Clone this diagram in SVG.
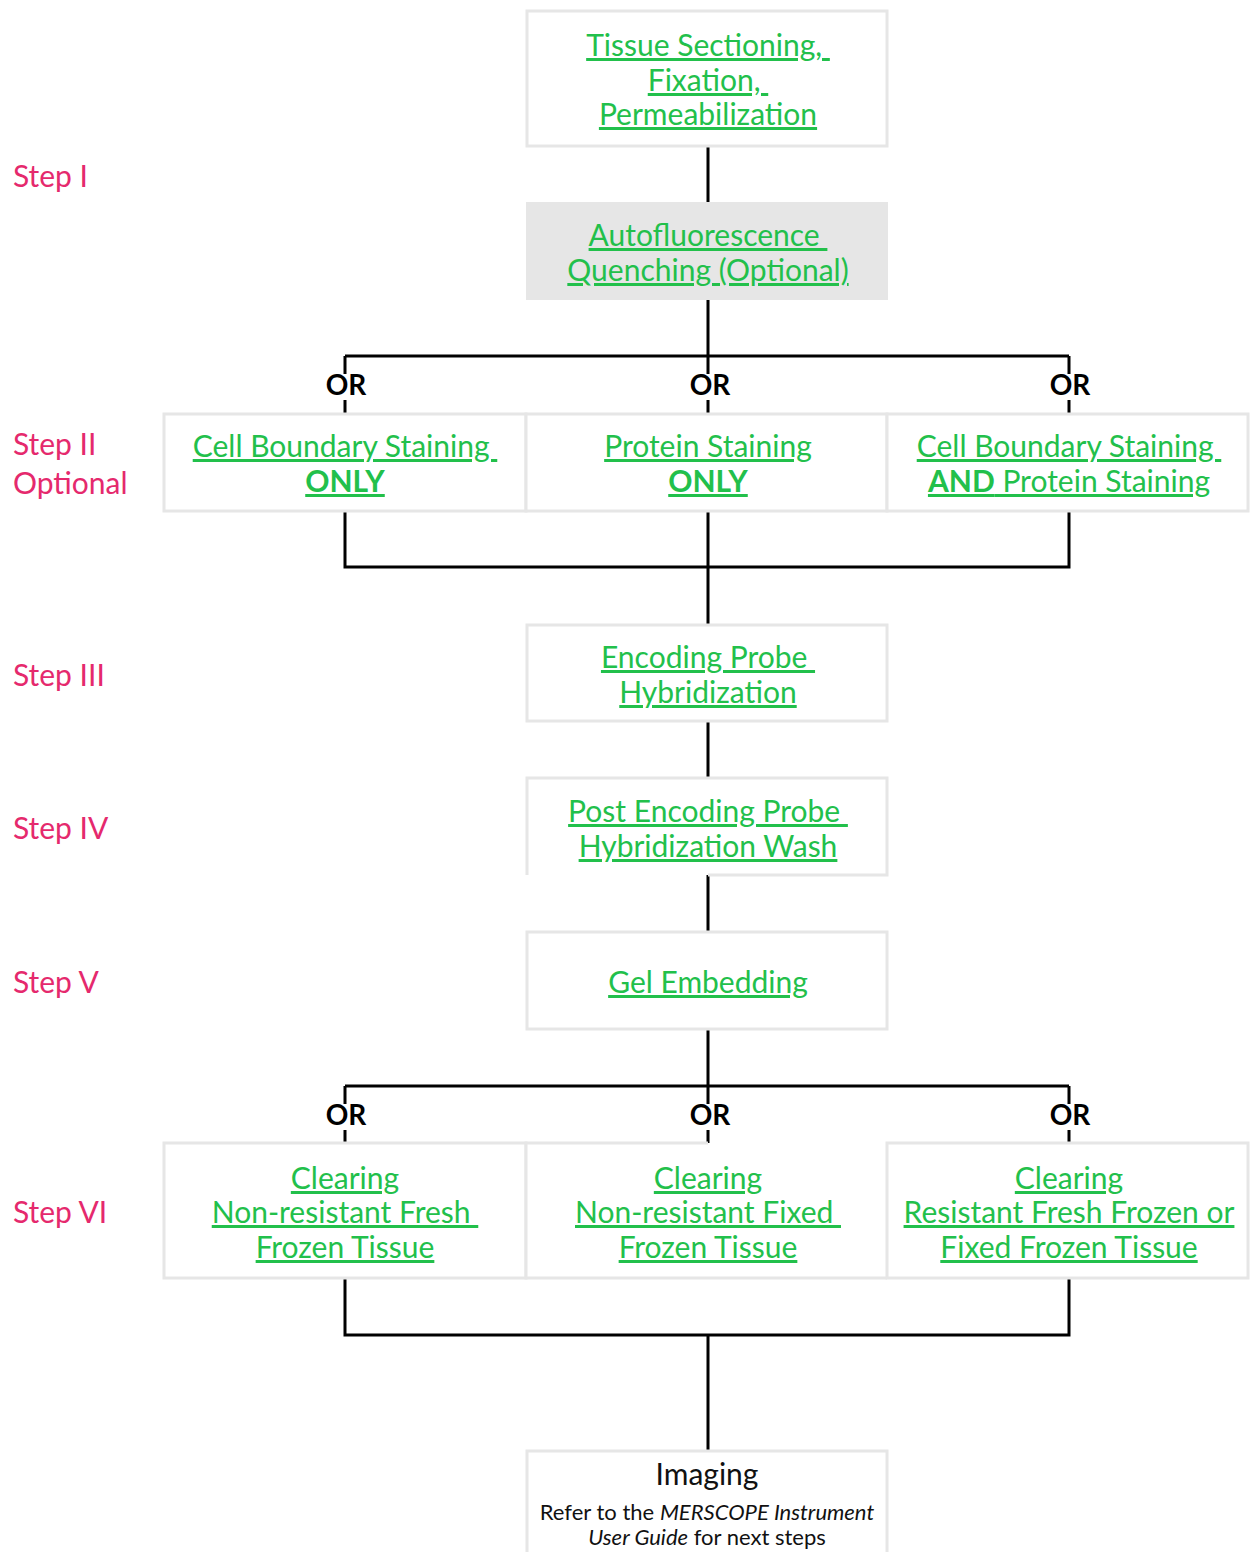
<svg xmlns="http://www.w3.org/2000/svg" width="1250" height="1552" viewBox="0 0 1250 1552">
<style>
.bx{fill:#fff;stroke:#e6e6e6;stroke-width:3}
.bxf{fill:#fff;stroke:none}
.bd{fill:none;stroke:#e6e6e6;stroke-width:3}
.cn{fill:none;stroke:#000;stroke-width:3}
.lk{fill:#22c04b;font-family:Lato,"Noto Sans",sans-serif;font-size:30px;text-decoration:underline;text-anchor:middle;white-space:pre}
.b{font-weight:700}
.st{fill:#e5296d;font-family:Lato,"Noto Sans",sans-serif;font-size:30px}
.or{fill:#000;font-family:Lato,"Noto Sans",sans-serif;font-size:28px;font-weight:700;text-anchor:middle}
.im{fill:#111;font-family:Lato,"Noto Sans",sans-serif;text-anchor:middle}
</style>
<rect width="1250" height="1552" fill="#fff"/>
<g id="connectors">
<path class="cn" d="M708,146V202M708,300V356M345,356H1069M345,356V374M708,356V374M1069,356V374M345,400V414M708,400V414M1069,400V414"/>
<path class="cn" d="M345,511V567H1069V511M708,511V625M708,721V778M708,875V932M708,1029V1086M345,1086H1069M345,1086V1104M708,1086V1104M1069,1086V1104M345,1130V1143M708,1130V1143M1069,1130V1143"/>
<path class="cn" d="M345,1278V1335H1069V1278M708,1335V1450"/>
</g>
<g id="or-labels">
<text class="or" x="346" y="395">OR</text>
<text class="or" x="710" y="395">OR</text>
<text class="or" x="1070" y="395">OR</text>
<text class="or" x="346" y="1125">OR</text>
<text class="or" x="710" y="1125">OR</text>
<text class="or" x="1070" y="1125">OR</text>
</g>
<g id="step-labels">
<text class="st" x="13" y="187">Step I</text>
<text class="st" x="13" y="455">Step II</text>
<text class="st" x="13" y="494">Optional</text>
<text class="st" x="13" y="686">Step III</text>
<text class="st" x="13" y="839">Step IV</text>
<text class="st" x="13" y="993">Step V</text>
<text class="st" x="13" y="1223">Step VI</text>
</g>
<g id="n-tissue">
<rect class="bx" x="527" y="11" width="360" height="135"/>
<text class="lk" x="708" y="56">Tissue Sectioning, </text>
<text class="lk" x="708" y="91">Fixation, </text>
<text class="lk" x="708" y="125">Permeabilization</text>
</g>
<g id="n-autofluorescence">
<rect x="526" y="202" width="362" height="98" fill="#e6e6e6"/>
<text class="lk" x="708" y="246">Autofluorescence </text>
<text class="lk" x="708" y="281">Quenching (Optional)</text>
</g>
<g id="n-cellboundary">
<rect class="bx" x="164" y="414" width="362" height="97"/>
<text class="lk" x="345" y="457">Cell Boundary Staining </text>
<text class="lk b" x="345" y="492">ONLY</text>
</g>
<g id="n-protein">
<rect class="bx" x="526" y="414" width="361" height="97"/>
<text class="lk" x="708" y="457">Protein Staining</text>
<text class="lk b" x="708" y="492">ONLY</text>
</g>
<g id="n-both">
<rect class="bx" x="887" y="414" width="361" height="97"/>
<text class="lk" x="1069" y="457">Cell Boundary Staining </text>
<text class="lk" x="1069" y="492"><tspan class="b">AND</tspan> Protein Staining</text>
</g>
<g id="n-encoding">
<rect class="bx" x="527" y="625" width="360" height="96"/>
<text class="lk" x="708" y="668">Encoding Probe </text>
<text class="lk" x="708" y="703">Hybridization</text>
</g>
<g id="n-postwash">
<rect class="bxf" x="527" y="778" width="360" height="97"/>
<path class="bd" d="M708,875H887V778H527V875"/>
<text class="lk" x="708" y="822">Post Encoding Probe </text>
<text class="lk" x="708" y="857">Hybridization Wash</text>
</g>
<g id="n-gel">
<rect class="bx" x="527" y="932" width="360" height="97"/>
<text class="lk" x="708" y="993">Gel Embedding</text>
</g>
<g id="n-clear-fresh">
<rect class="bx" x="164" y="1143" width="362" height="135"/>
<text class="lk" x="345" y="1189">Clearing</text>
<text class="lk" x="345" y="1223">Non-resistant Fresh </text>
<text class="lk" x="345" y="1258">Frozen Tissue</text>
</g>
<g id="n-clear-fixed">
<rect class="bxf" x="526" y="1143" width="361" height="135"/>
<path class="bd" d="M708,1143H526V1278H887"/>
<text class="lk" x="708" y="1189">Clearing</text>
<text class="lk" x="708" y="1223">Non-resistant Fixed </text>
<text class="lk" x="708" y="1258">Frozen Tissue</text>
</g>
<g id="n-clear-resistant">
<rect class="bx" x="887" y="1143" width="361" height="135"/>
<text class="lk" x="1069" y="1189">Clearing</text>
<text class="lk" x="1069" y="1223">Resistant Fresh Frozen or</text>
<text class="lk" x="1069" y="1258">Fixed Frozen Tissue</text>
</g>
<g id="n-imaging">
<rect class="bx" x="527" y="1451" width="360" height="120"/>
<text class="im" x="707" y="1485" font-size="30">Imaging</text>
<text class="im" x="707" y="1520" font-size="22">Refer to the <tspan font-style="italic">MERSCOPE Instrument</tspan></text>
<text class="im" x="707" y="1545" font-size="22"><tspan font-style="italic">User Guide</tspan> for next steps</text>
</g>
</svg>
